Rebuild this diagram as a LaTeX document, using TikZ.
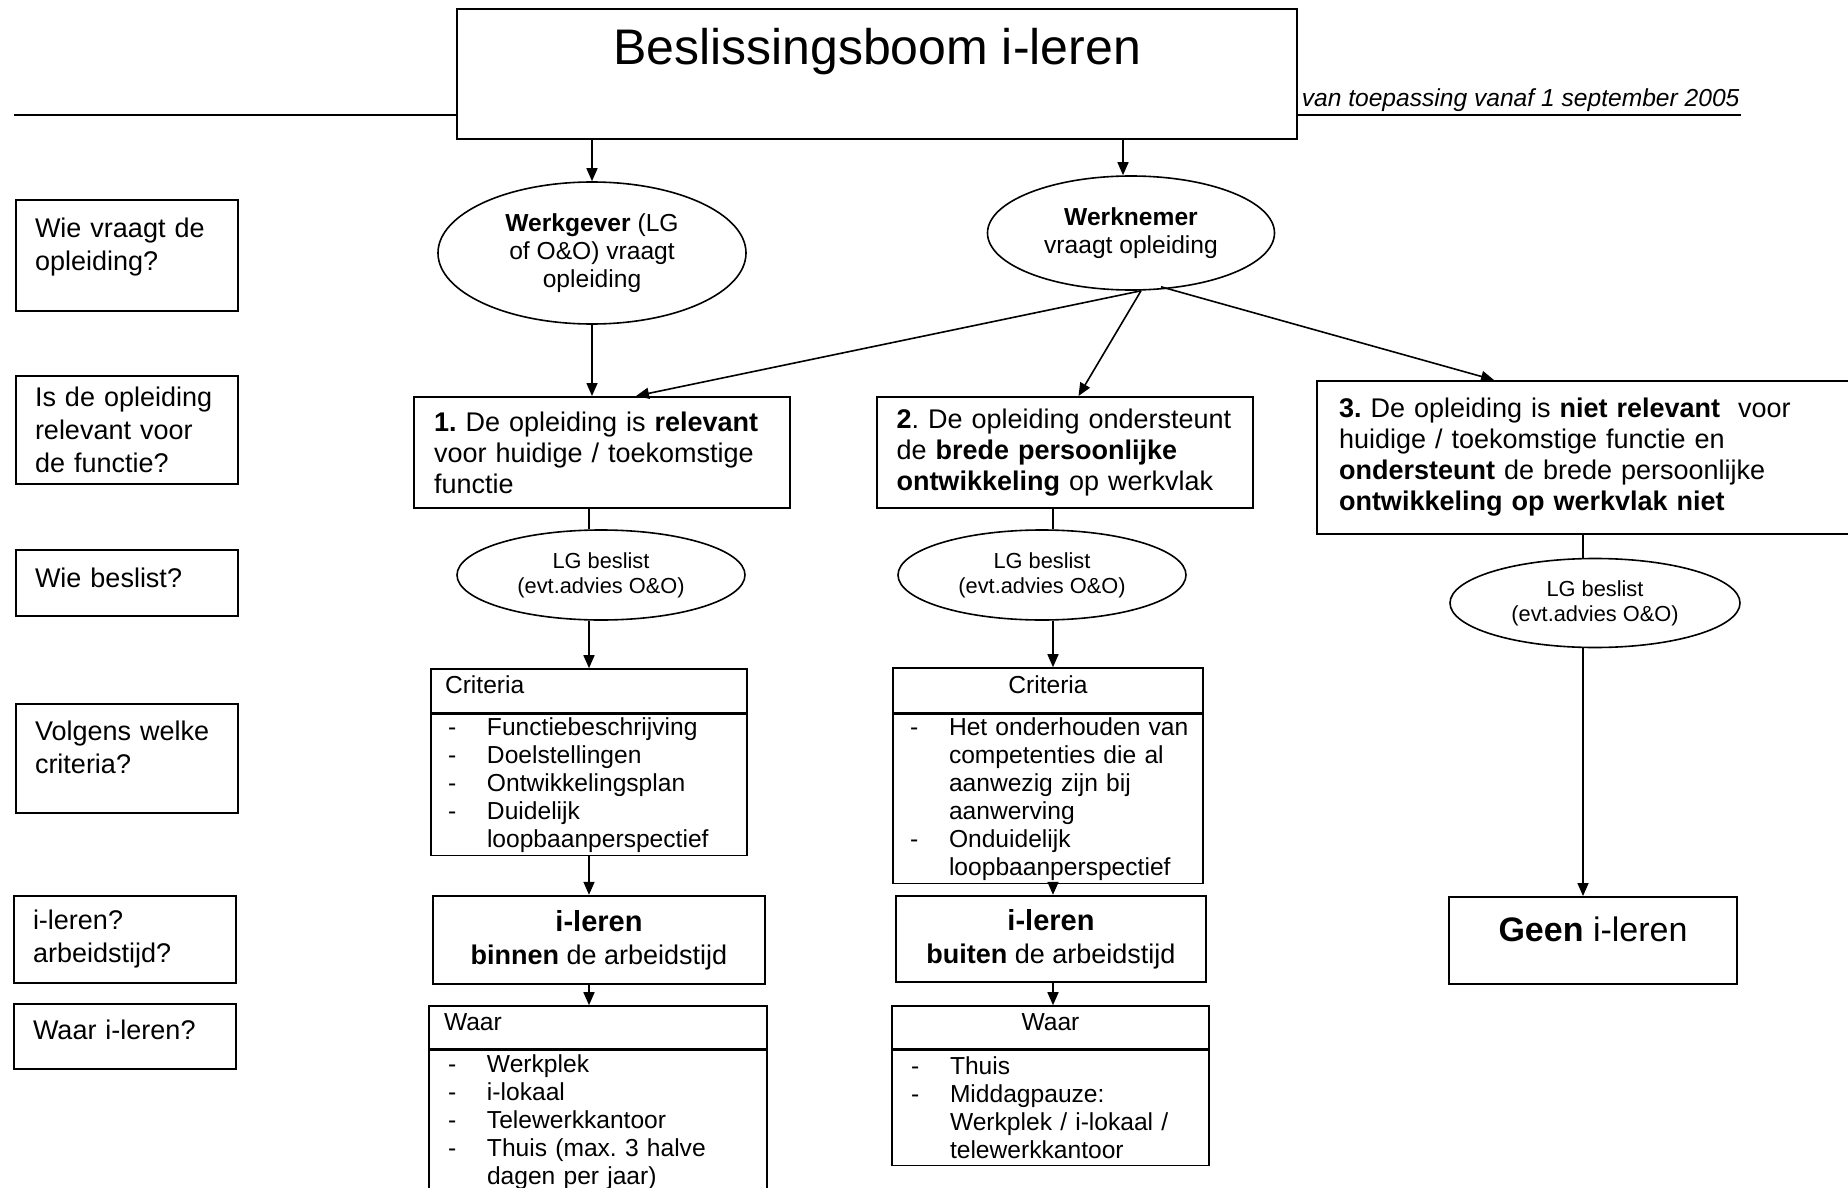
\documentclass[tikz,border=0pt]{standalone}
\usepackage{fontspec}
\setmainfont{Liberation Sans}
\usetikzlibrary{arrows.meta,positioning,shapes.geometric}
\frenchspacing

\newcommand{\dashitem}[1]{\makebox[19.5pt][l]{-}\mbox{#1}}
\newcommand{\dashcont}[1]{\hspace*{19.5pt}\mbox{#1}}

\begin{document}
\begin{tikzpicture}[x=0.5pt,y=-0.5pt,>={Triangle[length=6.5pt,width=5.5pt]},
  line width=0.8pt,
  every node/.style={inner sep=0pt},
  vraag/.style={draw,line width=1pt,minimum width=111pt,text width=92pt,
    inner xsep=9.5pt,align=left,font=\fontsize{13.5}{16.5}\selectfont},
  keuze/.style={draw,line width=1pt,minimum height=55.5pt,text width=168pt,
    inner xsep=10pt,align=left,font=\fontsize{13.5}{15.5}\selectfont},
  ovaal/.style={draw,ellipse,align=center,font=\fontsize{12.3}{14}\selectfont},
  beslist/.style={ovaal,minimum width=144pt,minimum height=45pt,
    font=\fontsize{10.9}{12.4}\selectfont},
  kop/.style={draw,text height=9pt,text depth=6.5pt,
    font=\fontsize{12.3}{14}\selectfont},
  lijst/.style={draw,align=left,inner xsep=8.5pt,font=\fontsize{12.3}{14}\selectfont},
  ileren/.style={draw,line width=1.2pt,align=center,font=\fontsize{13.5}{16.5}\selectfont}
]
\useasboundingbox (0,0) rectangle (1848,1188);
\clip (0,0) rectangle (1848,1188);
\fill[white] (0,0) rectangle (1848,1188);

% titel
\node[draw,line width=1.2pt,minimum width=420pt,minimum height=65pt,
  text height=18pt,text depth=27pt,font=\fontsize{25}{30}\selectfont]
  (title) at (877,74) {Beslissingsboom i-leren};
\node[anchor=base west,font=\fontsize{12.3}{14}\selectfont\itshape]
  (sub) at (1301,107) {van toepassing vanaf 1 september 2005};
\coordinate (ruleL) at (14,115);
\coordinate (ruleR) at (1741,115);
\draw (ruleL) -- (ruleL -| title.west);
\draw (title.east |- ruleR) -- (ruleR);

% vragen links
\node[vraag,minimum height=55.5pt,text depth=27.4pt] (q1) at (127,255.5) {Wie vraagt de\\opleiding?};
\node[vraag,minimum height=54pt] (q2) at (127,430) {Is de opleiding\\relevant voor\\de functie?};
\node[vraag,minimum height=33pt,text depth=5pt] (q3) at (127,583) {Wie beslist?};
\node[vraag,minimum height=54.5pt,text depth=27.4pt] (q4) at (127,758.5) {Volgens welke\\criteria?};
\node[vraag,minimum height=43.5pt] (q5) at (125,939.5) {i-leren?\\arbeidstijd?};
\node[vraag,minimum height=32.5pt,text depth=6.3pt] (q6) at (125,1036.5) {Waar i-leren?};

% wie vraagt
\node[ovaal,minimum width=154pt,minimum height=71pt] (wg) at (592,253)
  {\textbf{Werkgever} (LG\\of O\&O) vraagt\\opleiding};
\node[ovaal,minimum width=143.5pt,minimum height=57pt] (wn) at (1131,233)
  {\textbf{Werknemer}\\vraagt opleiding};

% relevantie
\node[keuze] (b1) at (602,452.5)
  {\textbf{1.} De opleiding is \textbf{relevant}\\voor huidige / toekomstige\\functie};
\node[keuze] (b2) at (1064.5,452.5)
  {\textbf{2}. De opleiding ondersteunt\\de \textbf{brede persoonlijke}\\\textbf{ontwikkeling} op werkvlak};
\node[keuze,anchor=west,minimum width=300pt,minimum height=76.5pt,text width=278pt,
  inner xsep=11pt] (b3) at (1316,457.5)
  {\textbf{3.} De opleiding is \textbf{niet relevant}\ \ voor\\huidige / toekomstige functie en\\
   \textbf{ondersteunt} de brede persoonlijke\\\textbf{ontwikkeling op werkvlak niet}};

% wie beslist
\node[beslist] (e1) at (601,575) {LG beslist\\(evt.advies O\&O)};
\node[beslist] (e2) at (1042,575) {LG beslist\\(evt.advies O\&O)};
\node[beslist,minimum width=145pt,minimum height=44.5pt] (e3) at (1595,603) {LG beslist\\(evt.advies O\&O)};

% criteria
\node[kop,minimum width=158pt,minimum height=22pt,text width=144pt,align=left]
  (crit1h) at (589,691) {Criteria};
\node[lijst,below=0pt of crit1h,minimum height=70.5pt,text width=141pt] (crit1)
  {\dashitem{Functiebeschrijving}\\\dashitem{Doelstellingen}\\\dashitem{Ontwikkelingsplan}\\
   \dashitem{Duidelijk}\\\dashcont{loopbaanperspectief}};
\node[kop,minimum width=155pt,minimum height=22.5pt] (crit2h) at (1048,690.5) {Criteria};
\node[lijst,below=0pt of crit2h,minimum height=84.5pt,text width=138pt] (crit2)
  {\dashitem{Het onderhouden van}\\\dashcont{competenties die al}\\\dashcont{aanwezig zijn bij}\\
   \dashcont{aanwerving}\\\dashitem{Onduidelijk}\\\dashcont{loopbaanperspectief}};

% arbeidstijd
\node[ileren,minimum width=166pt,minimum height=44pt] (il1) at (599,940)
  {{\fontsize{14.5}{16.5}\selectfont\bfseries i-leren}\\\textbf{binnen} de arbeidstijd};
\node[ileren,minimum width=155pt,minimum height=43pt] (il2) at (1051,939)
  {{\fontsize{14.5}{16.5}\selectfont\bfseries i-leren}\\\textbf{buiten} de arbeidstijd};
\node[draw,line width=1pt,minimum width=144pt,minimum height=43.5pt,text height=12.5pt,
  text depth=12pt,font=\fontsize{17}{20}\selectfont] (geen) at (1593,940.5) {\textbf{Geen} i-leren};

% waar
\node[kop,minimum width=169pt,minimum height=21.5pt,text width=154pt,align=left]
  (waar1h) at (598,1027.5) {Waar};
\node[lijst,below=0pt of waar1h,minimum height=72pt,text width=150pt,inner xsep=9.5pt] (waar1)
  {\dashitem{Werkplek}\\\dashitem{i-lokaal}\\\dashitem{Telewerkkantoor}\\
   \dashitem{Thuis (max. 3 halve}\\\dashcont{dagen per jaar)}};
\node[kop,minimum width=158.5pt,minimum height=21.5pt] (waar2h) at (1050.5,1027.5) {Waar};
\node[lijst,below=0pt of waar2h,minimum height=57.5pt,text width=139.5pt,inner xsep=9.5pt] (waar2)
  {\dashitem{Thuis}\\\dashitem{Middagpauze:}\\\dashcont{Werkplek / i-lokaal /}\\
   \dashcont{telewerkkantoor}};

% kolommen
\coordinate (colA) at (589,0);
\coordinate (colB) at (1053,0);
\coordinate (colC) at (1583,0);

% pijlen
\draw[->] (wg.north |- title.south) -- (wg.north);
\draw[->] ([xshift=-4pt]wn.north |- title.south) -- ([xshift=-4pt]wn.north);
\draw[->] (wg.south) -- (wg.south |- b1.north);
\draw[->] ([xshift=5pt]wn.south) -- ([xshift=17pt]b1.north);
\draw[->] ([xshift=5pt]wn.south) -- ([xshift=7pt]b2.north);
\draw[->] ([xshift=15pt,yshift=2pt]wn.south) -- ([xshift=89pt]b3.north west);

\draw (b1.south -| colA) -- (e1.north -| colA);
\draw[->] (e1.south -| colA) -- (crit1h.north -| colA);
\draw[->] (crit1.south -| colA) -- (il1.north -| colA);
\draw[->] (il1.south -| colA) -- (waar1h.north -| colA);

\draw (b2.south -| colB) -- (e2.north -| colB);
\draw[->] (e2.south -| colB) -- (crit2h.north -| colB);
\draw[->] (crit2.south -| colB) -- (il2.north -| colB);
\draw[->] (il2.south -| colB) -- (waar2h.north -| colB);

\draw (b3.south -| colC) -- (e3.north -| colC);
\draw[->] (e3.south -| colC) -- (geen.north -| colC);

\end{tikzpicture}
\end{document}
